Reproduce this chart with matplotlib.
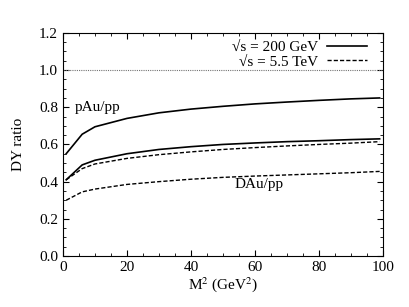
import matplotlib
matplotlib.use("Agg")
import matplotlib.pyplot as plt
from matplotlib.ticker import MultipleLocator

plt.rcParams['font.family'] = 'Liberation Serif'
plt.rcParams['mathtext.fontset'] = 'stix'

# M^2 grid (GeV^2)
m2 = [1, 6, 10, 20, 30, 40, 50, 60, 70, 80, 90, 99]
# sqrt(s) = 200 GeV
pau_200 = [0.55, 0.655, 0.695, 0.74, 0.77, 0.79, 0.805, 0.818, 0.828, 0.837, 0.845, 0.85]
dau_200 = [0.41, 0.49, 0.515, 0.55, 0.573, 0.588, 0.60, 0.608, 0.615, 0.62, 0.626, 0.63]
# sqrt(s) = 5.5 TeV
pau_55 = [0.41, 0.47, 0.495, 0.525, 0.545, 0.56, 0.573, 0.583, 0.592, 0.60, 0.607, 0.615]
dau_55 = [0.30, 0.345, 0.36, 0.385, 0.40, 0.413, 0.423, 0.43, 0.436, 0.442, 0.448, 0.455]

fig = plt.figure(figsize=(4.09, 3.07), dpi=100)
ax = fig.add_axes([0.154, 0.166, 0.782, 0.727])

ax.axhline(1.0, color='0.45', lw=0.8, ls=(0, (1, 1)))
l1, = ax.plot(m2, pau_200, color='black', lw=1.2)
ax.plot(m2, dau_200, color='black', lw=1.2)
l2, = ax.plot(m2, pau_55, color='black', lw=1.0, ls=(0, (3, 1.5)))
ax.plot(m2, dau_55, color='black', lw=1.0, ls=(0, (3, 1.5)))

ax.text(3.8, 0.8, 'pAu/pp', fontsize=11, va='center', ha='left')
ax.text(53.5, 0.387, 'DAu/pp', fontsize=11, va='center', ha='left')

leg = ax.legend([l1, l2], ['\u221as = 200 GeV', '\u221as = 5.5 TeV'],
                loc='upper right', bbox_to_anchor=(0.975, 1.0),
                frameon=False, markerfirst=False, fontsize=11,
                handlelength=2.6, borderaxespad=0.3, labelspacing=0.05, handletextpad=0.6,
                borderpad=0.2)
for t in leg.get_texts():
    t.set_ha('right')

ax.set_xlim(0, 100)
ax.set_ylim(0, 1.2)
ax.xaxis.set_major_locator(MultipleLocator(20))
ax.xaxis.set_minor_locator(MultipleLocator(5))
ax.yaxis.set_major_locator(MultipleLocator(0.2))
ax.yaxis.set_minor_locator(MultipleLocator(0.05))
ax.yaxis.set_major_formatter(plt.FormatStrFormatter('%.1f'))
ax.tick_params(which='both', direction='in', top=True, right=True, labelsize=11)
ax.tick_params(which='major', length=4)
ax.tick_params(which='minor', length=2)
for s in ax.spines.values():
    s.set_linewidth(0.8)

ax.set_xlabel(r'M$^2$ (GeV$^2$)', fontsize=11, labelpad=1)
ax.set_ylabel('DY ratio', fontsize=11, labelpad=10)

fig.savefig('out.png', dpi=100)
